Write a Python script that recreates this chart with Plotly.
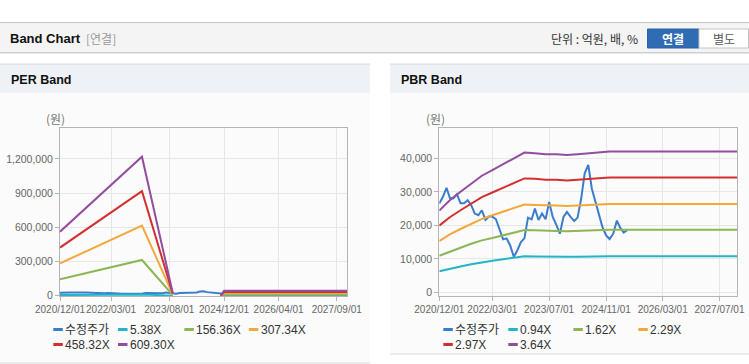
import pandas as pd
import plotly.graph_objects as go

W, H = 749, 364

# ---------------- data ----------------
price_start = "2020-12-01"
price = [26500, 28500, 31200, 28200, 28000, 29300, 26600, 26600, 27500, 26000,
         23500, 23000, 24500, 21600, 22600, 22600, 21800, 18500, 15800, 16100,
         14000, 10600, 12500, 15000, 16100, 22300, 21800, 25000, 21600, 23500,
         21800, 27000, 22500, 20100, 17500, 22500, 24000, 22500, 21300, 22300,
         28000, 35500, 38000, 31000, 27000, 23500, 19400, 17000, 15900, 17500,
         21400, 19300, 17800, 18600]
price_dates = pd.date_range(price_start, periods=len(price), freq="MS")

per_dates = ["2020-12-01", "2021-06-01", "2021-12-01", "2022-06-01", "2022-12-01",
             "2023-09-01", "2024-03-01", "2024-11-01", "2024-12-01", "2027-12-01"]
per_names = ["5.38X", "156.36X", "307.34X", "458.32X", "609.30X"]
per_538 = [4900, 6400, 7900, 9300, 10800, 200, None, 0, 380, 380]
per_15636 = [144000, 186000, 228000, 270000, 313000, 6000, None, 0, 11000, 11000]
per_30734 = [283000, 366000, 449000, 532000, 615000, 12000, None, 0, 21500, 21500]
per_45832 = [422000, 545000, 669000, 793000, 917000, 18000, None, 0, 32000, 32000]
per_60930 = [561000, 725000, 890000, 1054000, 1219000, 24000, None, 0, 42700, 42700]

pbr_dates = ["2020-12-01", "2021-03-01", "2021-06-01", "2021-09-01", "2021-12-01",
             "2022-03-01", "2022-06-01", "2022-09-01", "2022-12-01", "2023-03-01",
             "2023-06-01", "2023-09-01", "2023-12-01", "2024-03-01", "2024-06-01",
             "2024-09-01", "2024-12-01", "2027-12-01"]
pbr_names = ["0.94X", "1.62X", "2.29X", "2.97X", "3.64X"]
pbr_094 = [6300, 7100, 7700, 8400, 9000, 9400, 9900, 10300, 10800, 10700,
           10600, 10600, 10600, 10600, 10700, 10800, 10800, 10800]
pbr_162 = [10900, 12200, 13300, 14500, 15500, 16200, 17000, 17800, 18600, 18500,
           18300, 18300, 18200, 18300, 18400, 18600, 18700, 18700]
pbr_229 = [15300, 17300, 18900, 20400, 21900, 23000, 24100, 25200, 26200, 26100,
           25900, 25900, 25800, 25900, 26000, 26200, 26400, 26400]
pbr_297 = [19900, 22400, 24500, 26500, 28400, 29800, 31200, 32600, 34000, 33900,
           33600, 33600, 33400, 33600, 33800, 34000, 34300, 34300]
pbr_364 = [24400, 27500, 30000, 32500, 34800, 36500, 38300, 40000, 41700, 41500,
           41200, 41200, 41000, 41200, 41400, 41700, 42000, 42000]

price_name = "수정주가"
colors = ["#3b7dcc", "#22b5c6", "#8db655", "#f3a83b", "#d1302e", "#934d9f"]

per_tickvals = ["2020-12-01", "2022-03-01", "2023-08-01", "2024-12-01", "2026-04-01", "2027-09-01"]
per_ticktext = ["2020/12/01", "2022/03/01", "2023/08/01", "2024/12/01", "2026/04/01", "2027/09/01"]
pbr_tickvals = ["2020-12-01", "2022-03-01", "2023-07-01", "2024-11-01", "2026-03-01", "2027-07-01"]
pbr_ticktext = ["2020/12/01", "2022/03/01", "2023/07/01", "2024/11/01", "2026/03/01", "2027/07/01"]
per_yticks = [0, 300000, 600000, 900000, 1200000]
pbr_yticks = [0, 10000, 20000, 30000, 40000]
x_range = ["2020-12-01", "2027-12-01"]

# ---------------- figure ----------------
LAT = "Liberation Sans, Arial, Noto Sans CJK KR, sans-serif"
KFONT = "Noto Sans CJK KR, sans-serif"

fig = go.Figure()

fig.add_trace(go.Scatter(x=price_dates, y=price, mode="lines", name=price_name,
                         line=dict(color=colors[0], width=2), xaxis="x", yaxis="y"))
for nm, ys, c in zip(per_names, [per_538, per_15636, per_30734, per_45832, per_60930], colors[1:]):
    fig.add_trace(go.Scatter(x=per_dates, y=ys, mode="lines", name=nm, connectgaps=False,
                             line=dict(color=c, width=2), xaxis="x", yaxis="y"))

fig.add_trace(go.Scatter(x=price_dates, y=price, mode="lines", name=price_name,
                         line=dict(color=colors[0], width=2), xaxis="x2", yaxis="y2"))
for nm, ys, c in zip(pbr_names, [pbr_094, pbr_162, pbr_229, pbr_297, pbr_364], colors[1:]):
    fig.add_trace(go.Scatter(x=pbr_dates, y=ys, mode="lines", name=nm,
                             line=dict(color=c, width=2), xaxis="x2", yaxis="y2"))


def px(x):
    return x / W


def py(y):
    return 1 - y / H


ydom = [py(296), py(128)]
axis_common = dict(showgrid=True, gridcolor="#e7e7e7", gridwidth=1, showline=True,
                   linecolor="#b4b4b4", linewidth=1, mirror=True, ticks="outside",
                   ticklen=4, tickcolor="#b4b4b4", zeroline=False, fixedrange=True,
                   automargin=False)
xfont = dict(family=LAT, size=10, color="#666")
yfont = dict(family=LAT, size=10.5, color="#666")

fig.update_layout(
    width=W, height=H, margin=dict(l=0, r=0, t=0, b=0, pad=0, autoexpand=False),
    paper_bgcolor="white", plot_bgcolor="rgba(0,0,0,0)",
    showlegend=False, hovermode=False,
    xaxis=dict(domain=[px(60), px(347)], range=x_range, type="date", anchor="y",
               tickvals=per_tickvals, ticktext=per_ticktext, tickangle=0,
               tickfont=xfont, **axis_common),
    yaxis=dict(domain=ydom, range=[-3000, 1471000], anchor="x", tickvals=per_yticks,
               tickformat=",", tickfont=yfont, **axis_common),
    xaxis2=dict(domain=[px(439.3), px(737.3)], range=x_range, type="date", anchor="y2",
                tickvals=pbr_tickvals, ticktext=pbr_ticktext, tickangle=0,
                tickfont=xfont, **axis_common),
    yaxis2=dict(domain=ydom, range=[-1100, 49050], anchor="x2", tickvals=pbr_yticks,
                tickformat=",", tickfont=yfont, **axis_common),
)

shapes = []
ann = []


def rect(x0, y0, x1, y1, fill, line=None):
    shapes.append(dict(type="rect", xref="paper", yref="paper", x0=px(x0), x1=px(x1),
                       y0=py(y1), y1=py(y0), fillcolor=fill, layer="below",
                       line=dict(width=1 if line else 0, color=line or fill)))


def hline(x0, x1, y, color, width=1):
    shapes.append(dict(type="line", xref="paper", yref="paper", x0=px(x0), x1=px(x1),
                       y0=py(y), y1=py(y), layer="below", line=dict(color=color, width=width)))


def text(x, y, s, size=12, color="#333", family=KFONT, anchor="left"):
    ann.append(dict(xref="paper", yref="paper", x=px(x), y=py(y), text=s, showarrow=False,
                    xanchor=anchor, yanchor="middle", borderpad=0, borderwidth=0,
                    font=dict(size=size, color=color, family=family)))


# top header bar
rect(0, 22.5, 749, 52.5, "#f4f4f4")
hline(0, 749, 22.5, "#c6c6c6")
hline(0, 749, 52.5, "#cfcfcf")
hline(0, 749, 53.5, "#e6e6e6")
text(10, 38.5, "<b>Band Chart</b>", size=13, color="#111", family=LAT)
text(86, 38.5, "[연결]", size=12, color="#9a9a9a")
text(551, 38.5, "단위 : 억원, 배, %", size=12, color="#333")
rect(647.5, 29, 699, 48, "#2f6cb3", "#2a63a6")
rect(699, 29, 748.5, 48, "#ffffff", "#c4c4c4")
text(673, 38.5, "<b>연결</b>", size=12, color="#ffffff", anchor="center")
text(724, 38.5, "별도", size=12, color="#555", anchor="center")

# panels
for (x0, x1, ybot, title) in [(0, 370, 363, "PER Band"), (390, 749, 354, "PBR Band")]:
    rect(x0, 64, x1, ybot, "#fbfbfc")
    rect(x0, 64, x1, 93, "#eef1f6")
    hline(x0, x1, 64, "#dadada")
    hline(x0, x1, ybot, "#dadada")
    text(x0 + 11, 79.5, "<b>" + title + "</b>", size=12.5, color="#111", family=LAT)

# unit labels
text(55.5, 118.5, "(원)", size=12, color="#777", anchor="center")
text(435.5, 118.5, "(원)", size=12, color="#777", anchor="center")

# legends (manual, short line symbols)
leg_names_per = [price_name] + per_names
leg_names_pbr = [price_name] + pbr_names
for names, xs in [(leg_names_per, [53.3, 118, 184.3, 248.8]), (leg_names_pbr, [443.3, 508.3, 573.3, 638.3])]:
    for i, (nm, c) in enumerate(zip(names, colors)):
        row, col = divmod(i, 4)
        y = 329.5 + row * 15
        x = xs[col]
        shapes.append(dict(type="line", xref="paper", yref="paper", x0=px(x), x1=px(x + 9.5),
                           y0=py(y), y1=py(y), line=dict(color=c, width=3)))
        text(x + 12, y, nm, size=12, color="#333", family=LAT)

fig.update_layout(shapes=shapes, annotations=ann)
fig.write_html("out.html", config={"displayModeBar": False},
               post_script="document.body.style.margin='0';document.body.style.overflow='hidden';")
